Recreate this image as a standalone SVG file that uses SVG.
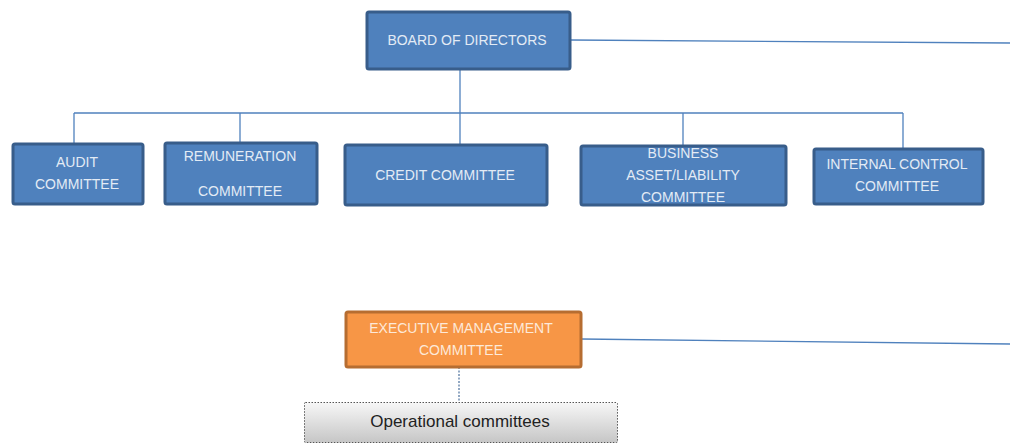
<svg xmlns="http://www.w3.org/2000/svg" width="1010" height="446" viewBox="0 0 1010 446">
  <defs>
    <linearGradient id="grayFill" x1="0" y1="0" x2="0" y2="1">
      <stop offset="0" stop-color="#f7f7f7"/>
      <stop offset="1" stop-color="#c6c6c6"/>
    </linearGradient>
  </defs>
  <style>
    .blue { fill: #4f81bd; stroke: #385d8a; stroke-width: 3; }
    .orange { fill: #f79646; stroke: #b66d31; stroke-width: 3; }
    .gray { fill: url(#grayFill); stroke: #555; stroke-width: 1; stroke-dasharray: 1.5 1.5; }
    .lbl { font-family: "Liberation Sans", Arial, sans-serif; font-size: 14px; fill: #e3ebf5; text-anchor: middle; }
    .lblo { font-family: "Liberation Sans", Arial, sans-serif; font-size: 14px; fill: #fde9d9; text-anchor: middle; }
    .lbld { font-family: "Liberation Sans", Arial, sans-serif; font-size: 17px; fill: #222; text-anchor: middle; }
    .conn { fill: none; stroke: #4f81bd; stroke-width: 1.3; }
    .connd { fill: none; stroke: #4a6f9c; stroke-width: 1.2; stroke-dasharray: 2 1.5; }
  </style>

  <!-- connectors -->
  <g id="connectors">
    <path class="conn" d="M571 40 L1010 43"/>
    <path class="conn" d="M460 69 V113"/>
    <path class="conn" d="M74 113 H903"/>
    <path class="conn" d="M74 113 V143"/>
    <path class="conn" d="M240 113 V142"/>
    <path class="conn" d="M460 113 V170"/>
    <path class="conn" d="M683 113 V145"/>
    <path class="conn" d="M903 113 V148"/>
    <path class="conn" d="M581 339 L1010 344"/>
    <path class="connd" d="M459 367 V402"/>
  </g>

  <g id="board">
    <rect class="blue" x="367" y="12" width="203" height="57" rx="2"/>
    <text class="lbl" x="467" y="45">BOARD OF DIRECTORS</text>
  </g>

  <g id="audit">
    <rect class="blue" x="13" y="144" width="130" height="60" rx="2"/>
    <text class="lbl" x="77" y="167">AUDIT</text>
    <text class="lbl" x="77" y="189">COMMITTEE</text>
  </g>

  <g id="remuneration">
    <rect class="blue" x="165" y="143" width="152" height="61" rx="2"/>
    <text class="lbl" x="240" y="161">REMUNERATION</text>
    <text class="lbl" x="240" y="196">COMMITTEE</text>
  </g>

  <g id="credit">
    <rect class="blue" x="345" y="145" width="202" height="60" rx="2"/>
    <text class="lbl" x="445" y="180">CREDIT COMMITTEE</text>
  </g>

  <g id="business">
    <rect class="blue" x="581" y="146" width="205" height="59" rx="2"/>
    <text class="lbl" x="683" y="158">BUSINESS</text>
    <text class="lbl" x="683" y="180">ASSET/LIABILITY</text>
    <text class="lbl" x="683" y="202">COMMITTEE</text>
  </g>

  <g id="internal-control">
    <rect class="blue" x="814" y="149" width="169" height="55" rx="2"/>
    <text class="lbl" x="897" y="169">INTERNAL CONTROL</text>
    <text class="lbl" x="897" y="191">COMMITTEE</text>
  </g>

  <g id="executive">
    <rect class="orange" x="346" y="312" width="235" height="55" rx="2"/>
    <text class="lblo" x="461" y="333">EXECUTIVE MANAGEMENT</text>
    <text class="lblo" x="461" y="355">COMMITTEE</text>
  </g>

  <g id="operational">
    <rect class="gray" x="304.5" y="402.5" width="313" height="40" rx="1"/>
    <text class="lbld" x="460" y="427">Operational committees</text>
  </g>
</svg>
